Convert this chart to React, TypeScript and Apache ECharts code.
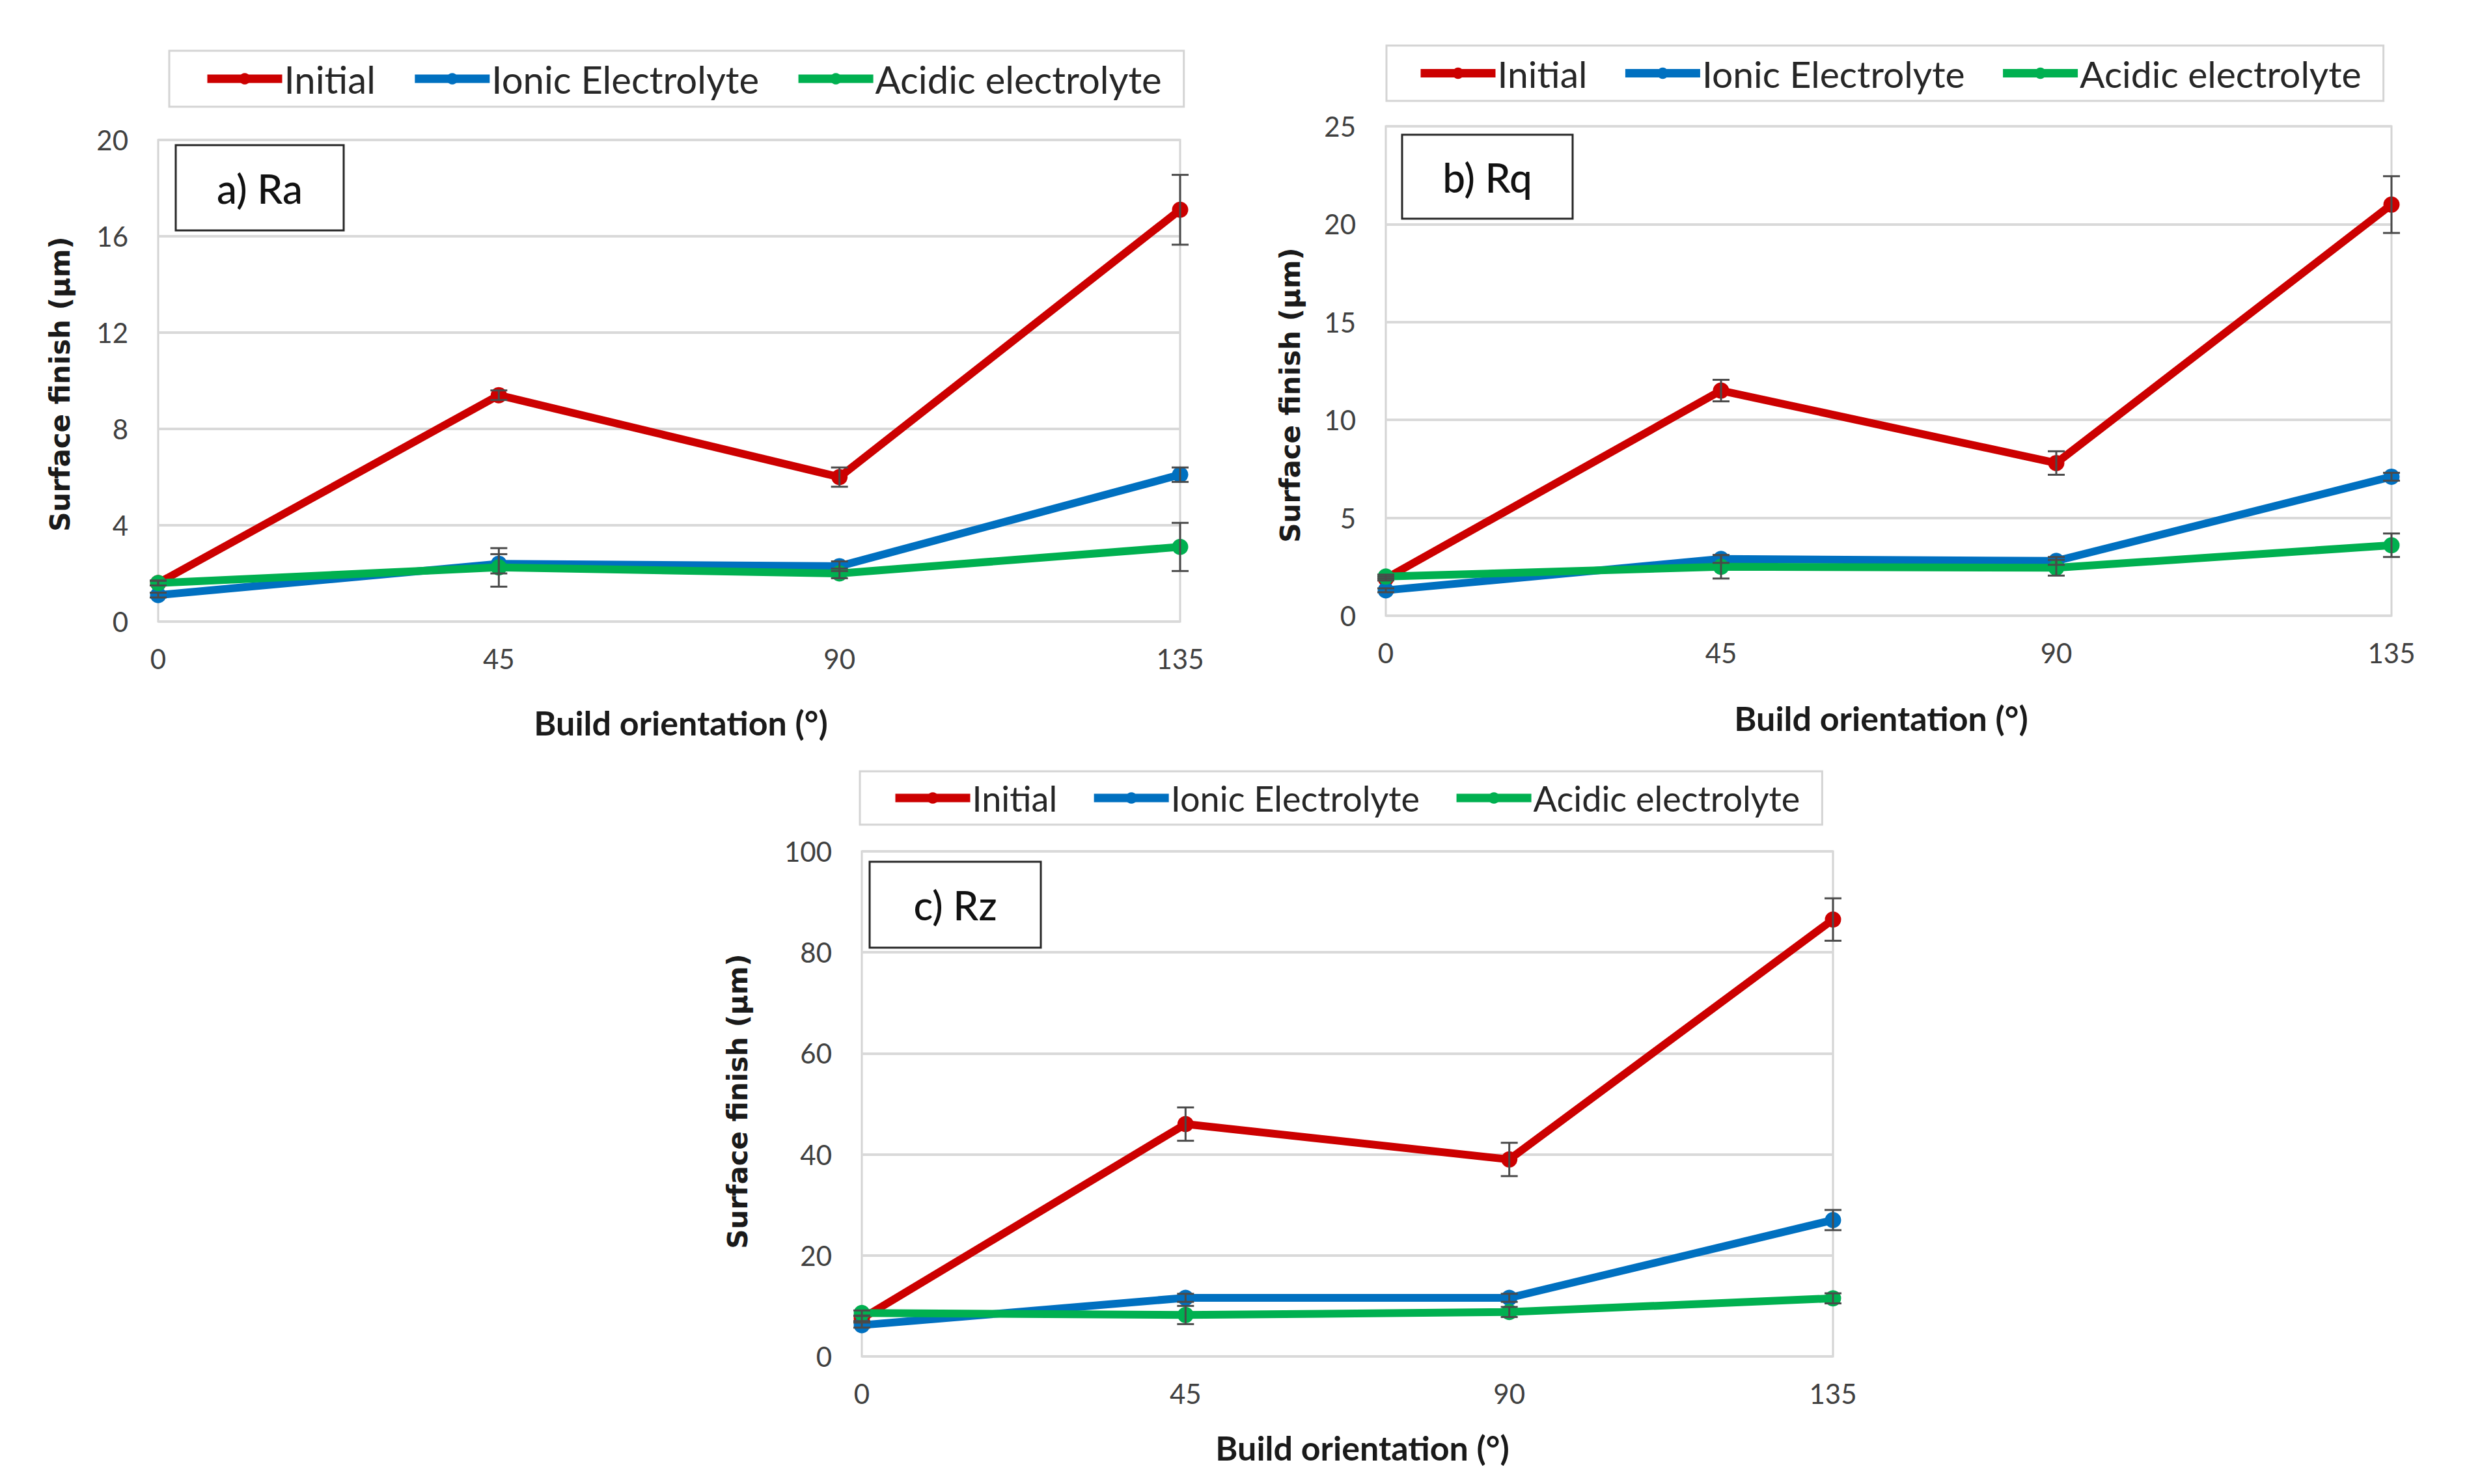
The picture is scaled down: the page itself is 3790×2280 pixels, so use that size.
import React, { useEffect, useRef } from "react";
import * as echarts from "echarts";

const xValues = [0, 45, 90, 135];
const seriesNames = ["Initial", "Ionic Electrolyte", "Acidic electrolyte"];
const colors = ["#CC0000", "#0070C0", "#00B050"];

// Panel a) Ra
const raInitial = [1.6, 9.4, 6.0, 17.1];
const raIonic = [1.1, 2.4, 2.3, 6.1];
const raAcidic = [1.6, 2.25, 2.0, 3.1];
const raInitialErr = [0.1, 0.2, 0.4, 1.45];
const raIonicErr = [0.1, 0.4, 0.2, 0.3];
const raAcidicErr = [0.1, 0.8, 0.2, 1.0];

// Panel b) Rq
const rqInitial = [1.9, 11.5, 7.8, 21.0];
const rqIonic = [1.3, 2.9, 2.8, 7.1];
const rqAcidic = [2.0, 2.5, 2.45, 3.6];
const rqInitialErr = [0.1, 0.55, 0.6, 1.45];
const rqIonicErr = [0.1, 0.2, 0.2, 0.2];
const rqAcidicErr = [0.1, 0.6, 0.4, 0.6];

// Panel c) Rz
const rzInitial = [7.5, 46.0, 39.0, 86.5];
const rzIonic = [6.2, 11.6, 11.6, 27.0];
const rzAcidic = [8.6, 8.2, 8.8, 11.5];
const rzInitialErr = [0.5, 3.3, 3.3, 4.2];
const rzIonicErr = [0.5, 0.8, 0.8, 2.0];
const rzAcidicErr = [0.5, 1.8, 1.0, 1.0];

const yMaxes = [20, 25, 100];
const yIntervals = [4, 5, 20];
const panelLabels = ["a) Ra", "b) Rq", "c) Rz"];
const yTitle = "Surface finish (µm)";
const xTitle = "Build orientation (°)";

const panels = [
  { vals: [raInitial, raIonic, raAcidic], errs: [raInitialErr, raIonicErr, raAcidicErr] },
  { vals: [rqInitial, rqIonic, rqAcidic], errs: [rqInitialErr, rqIonicErr, rqAcidicErr] },
  { vals: [rzInitial, rzIonic, rzAcidic], errs: [rzInitialErr, rzIonicErr, rzAcidicErr] },
];

// layout (pixels)
const grids = [
  { left: 243, top: 215, width: 1570, height: 740 },
  { left: 2129, top: 194, width: 1545, height: 752 },
  { left: 1324, top: 1308, width: 1492, height: 776 },
];
const legendPos = [
  { left: 260, top: 78, font: 58, gap: 54, padL: 52 },
  { left: 2130, top: 70, font: 57, gap: 52, padL: 46 },
  { left: 1321, top: 1185, font: 54, gap: 50, padL: 48 },
];
const labelBoxes = [
  { x: 270, y: 223, w: 258, h: 131 },
  { x: 2154, y: 207, w: 262, h: 129 },
  { x: 1336, y: 1324, w: 263, h: 132 },
];
const yTitlePos = [
  { x: 92, y: 590 },
  { x: 1982, y: 607 },
  { x: 1133, y: 1692 },
];
const xTitlePos = [
  { x: 1046, y: 1110 },
  { x: 2890, y: 1103 },
  { x: 2093, y: 2224 },
];

const FONT = "Lato, 'Open Sans', sans-serif";

export default function App() {
  const ref = useRef<HTMLDivElement>(null);
  useEffect(() => {
    if (!ref.current) return;
    const chart = echarts.init(ref.current, undefined, { renderer: "svg" });

    const series: any[] = [];
    panels.forEach((p, gi) => {
      p.vals.forEach((vals, si) => {
        series.push({
          type: "line",
          name: seriesNames[si],
          xAxisIndex: gi,
          yAxisIndex: gi,
          data: xValues.map((x, i) => [x, vals[i]]),
          symbol: "circle",
          symbolSize: 25,
          showSymbol: true,
          lineStyle: { width: 12, color: colors[si] },
          itemStyle: { color: colors[si] },
          z: 3 + si,
        });
      });
      p.vals.forEach((vals, si) => {
        series.push({
          type: "custom",
          name: "err-" + gi + "-" + si,
          xAxisIndex: gi,
          yAxisIndex: gi,
          clip: false,
          z: 10,
          encode: { x: 0, y: [1, 2] },
          data: xValues.map((x, i) => [x, vals[i] - p.errs[si][i], vals[i] + p.errs[si][i]]),
          renderItem: (params: any, api: any) => {
            const x = api.value(0);
            const lo = api.coord([x, api.value(1)]);
            const hi = api.coord([x, api.value(2)]);
            const cap = 13;
            const style = { stroke: "#4a4a4a", lineWidth: 3 };
            return {
              type: "group",
              children: [
                { type: "line", shape: { x1: lo[0], y1: lo[1], x2: hi[0], y2: hi[1] }, style },
                { type: "line", shape: { x1: lo[0] - cap, y1: lo[1], x2: lo[0] + cap, y2: lo[1] }, style },
                { type: "line", shape: { x1: hi[0] - cap, y1: hi[1], x2: hi[0] + cap, y2: hi[1] }, style },
              ],
            };
          },
        });
      });
    });

    const graphic: any[] = [];
    labelBoxes.forEach((b, i) => {
      graphic.push({
        type: "rect",
        shape: { x: b.x, y: b.y, width: b.w, height: b.h },
        style: { fill: "#ffffff", stroke: "#262626", lineWidth: 3 },
        z: 20,
      });
      graphic.push({
        type: "text",
        x: b.x + b.w / 2,
        y: b.y + b.h / 2,
        style: {
          text: panelLabels[i],
          font: "500 62px " + FONT,
          fill: "#111111",
          textAlign: "center",
          textVerticalAlign: "middle",
        },
        z: 21,
      });
      graphic.push({
        type: "text",
        x: yTitlePos[i].x,
        y: yTitlePos[i].y,
        rotation: Math.PI / 2,
        style: {
          text: yTitle,
          font: "bold 42px 'DejaVu Sans', Verdana, sans-serif",
          fill: "#1a1a1a",
          textAlign: "center",
          textVerticalAlign: "middle",
        },
      });
      graphic.push({
        type: "text",
        x: xTitlePos[i].x,
        y: xTitlePos[i].y,
        style: {
          text: xTitle,
          font: "bold 52px " + FONT,
          fill: "#1a1a1a",
          textAlign: "center",
          textVerticalAlign: "middle",
        },
      });
    });

    chart.setOption({
      animation: false,
      backgroundColor: "#ffffff",
      grid: grids.map((g) => ({
        ...g,
        show: true,
        borderColor: "#d4d4d4",
        borderWidth: 3,
        containLabel: false,
      })),
      xAxis: grids.map((_, gi) => ({
        type: "value",
        gridIndex: gi,
        min: 0,
        max: 135,
        interval: 45,
        axisLine: { show: false },
        axisTick: { show: false },
        splitLine: { show: false },
        axisLabel: { fontFamily: FONT, fontSize: 42, color: "#404040", margin: 36 },
      })),
      yAxis: grids.map((_, gi) => ({
        type: "value",
        gridIndex: gi,
        min: 0,
        max: yMaxes[gi],
        interval: yIntervals[gi],
        axisLine: { show: false },
        axisTick: { show: false },
        splitLine: { show: true, lineStyle: { color: "#d9d9d9", width: 4 } },
        axisLabel: { fontFamily: FONT, fontSize: 42, color: "#404040", margin: 46 },
      })),
      legend: legendPos.map((lp) => ({
        left: lp.left,
        top: lp.top,
        orient: "horizontal",
        data: seriesNames,
        itemWidth: 115,
        itemHeight: 22,
        itemGap: lp.gap,
        padding: [14, 34, 14, lp.padL],
        borderColor: "#d4d4d4",
        borderWidth: 3,
        backgroundColor: "#ffffff",
        selectedMode: false,
        lineStyle: { width: 13 },
        textStyle: { fontFamily: FONT, fontSize: lp.font, color: "#262626", padding: [0, 0, 0, -2] },
      })),
      series,
      graphic,
    });

    return () => chart.dispose();
  }, []);

  return (
    <div
      ref={ref}
      style={{ position: "absolute", left: 0, top: 0, width: 3790, height: 2280, background: "#fff" }}
    />
  );
}
